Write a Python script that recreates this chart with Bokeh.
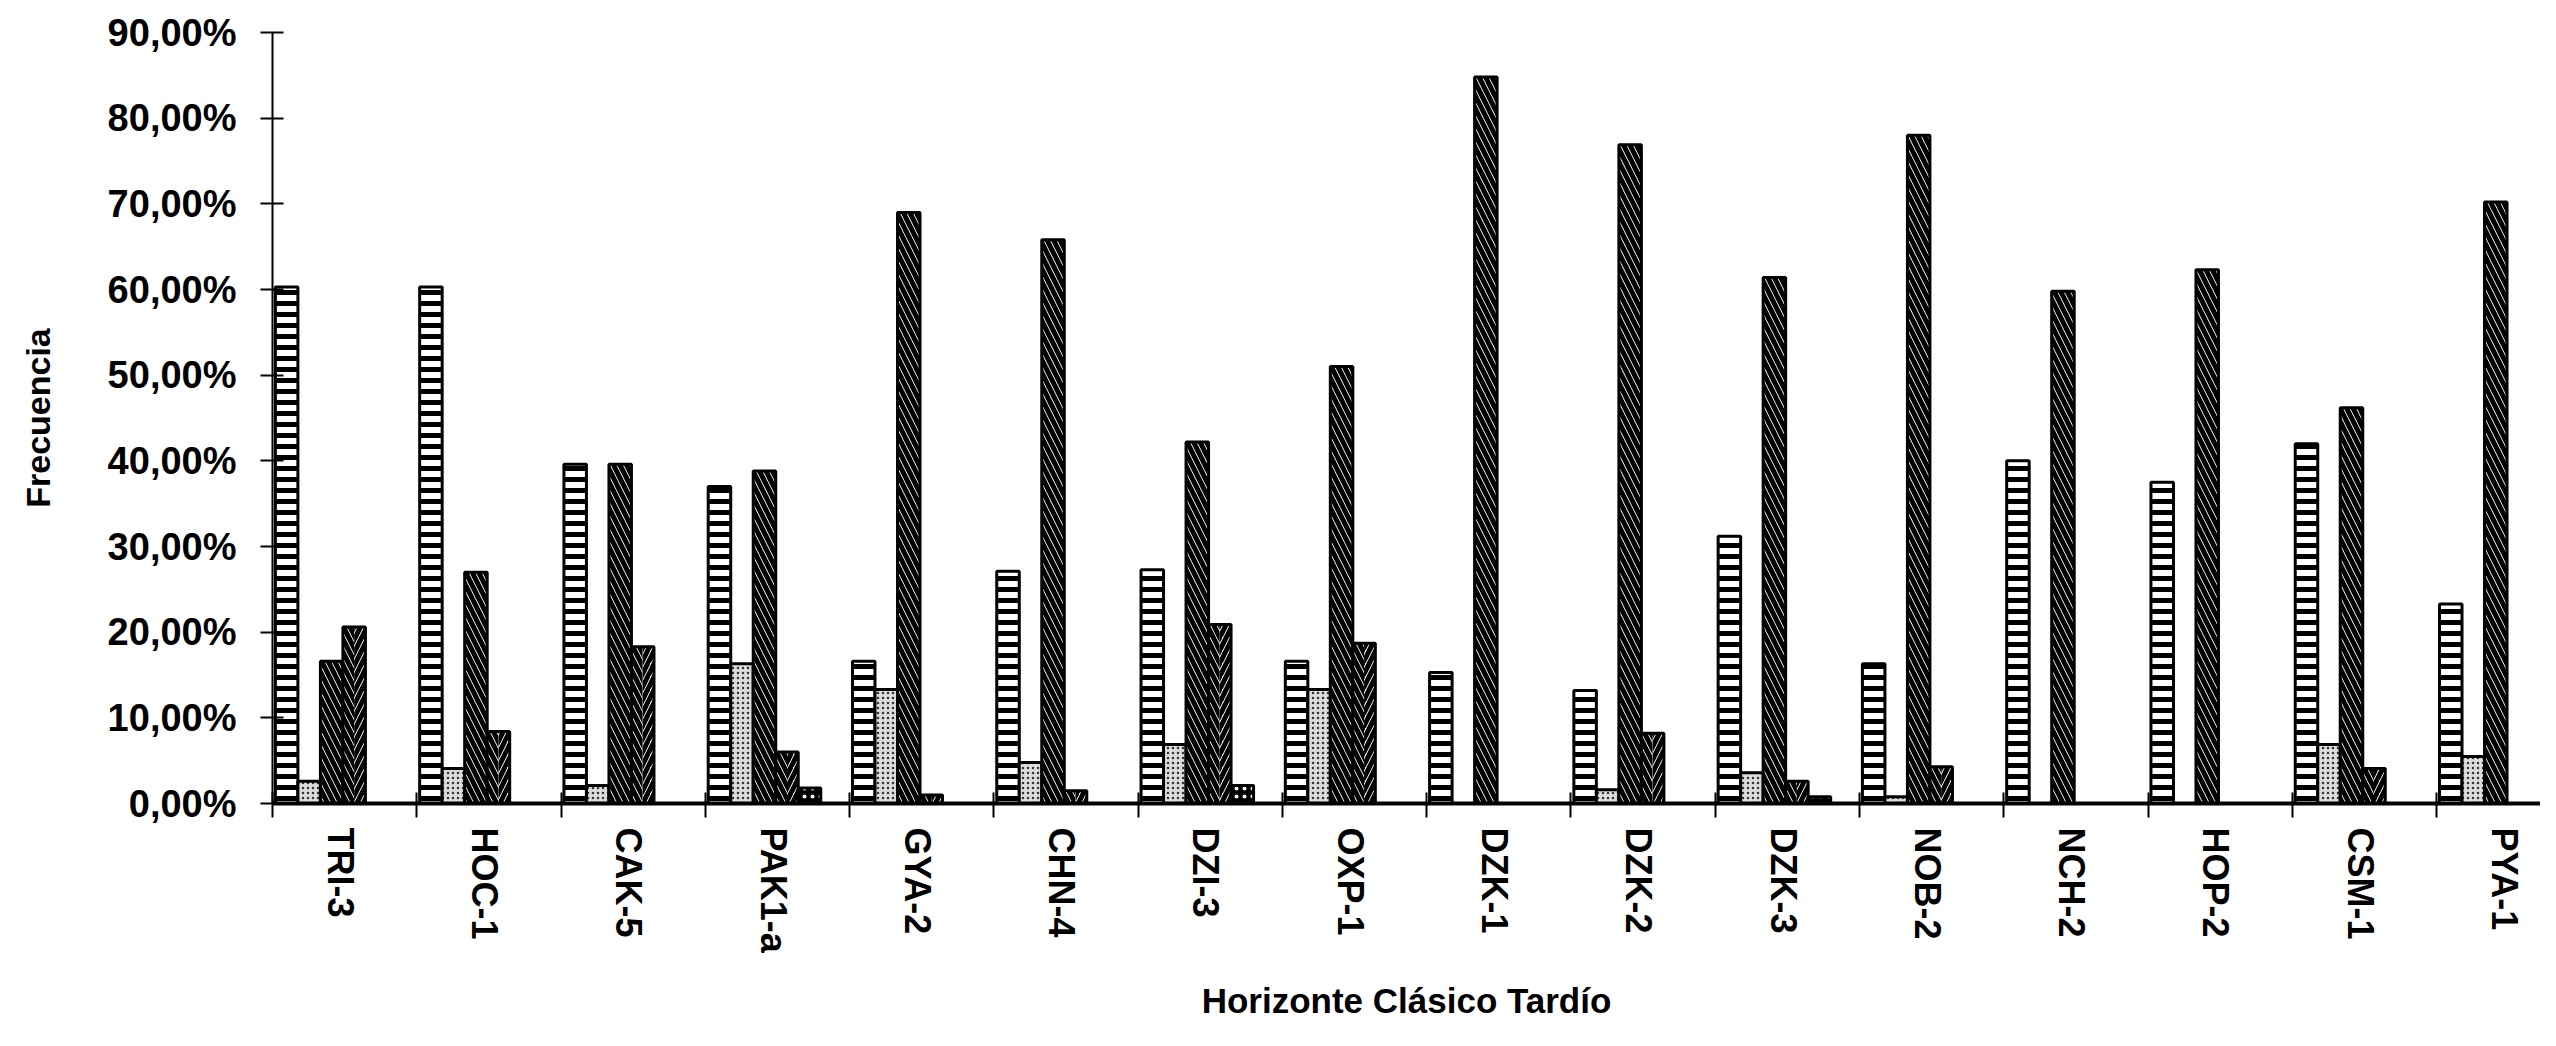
from bokeh.plotting import figure
from bokeh.models import FixedTicker, Range1d
from bokeh.embed import file_html
from bokeh.resources import INLINE

categories = ["TRI-3", "HOC-1", "CAK-5", "PAK1-a", "GYA-2", "CHN-4", "DZI-3", "OXP-1",
              "DZK-1", "DZK-2", "DZK-3", "NOB-2", "NCH-2", "HOP-2", "CSM-1", "PYA-1"]
serie_rayas = [60.3, 60.3, 39.6, 37.0, 16.6, 27.1, 27.3, 16.6, 15.3, 13.2, 31.2, 16.3, 40.0, 37.5, 42.0, 23.3]
serie_puntos = [2.6, 4.1, 2.1, 16.3, 13.3, 4.8, 6.9, 13.3, 0.0, 1.6, 3.6, 0.8, 0.0, 0.0, 6.9, 5.5]
serie_diagonal = [16.6, 27.0, 39.6, 38.8, 69.0, 65.8, 42.2, 51.0, 84.8, 76.9, 61.4, 78.0, 59.8, 62.3, 46.2, 70.2]
serie_espiga = [20.6, 8.4, 18.3, 6.0, 1.0, 1.5, 20.9, 18.7, 0.0, 8.2, 2.6, 4.3, 0.0, 0.0, 4.1, 0.0]
serie_otros = [0.0, 0.0, 0.0, 1.8, 0.0, 0.0, 2.1, 0.0, 0.0, 0.0, 0.8, 0.0, 0.0, 0.0, 0.0, 0.0]
y_ticks = [0, 10, 20, 30, 40, 50, 60, 70, 80, 90]
y_tick_labels = ["0,00%", "10,00%", "20,00%", "30,00%", "40,00%", "50,00%",
                 "60,00%", "70,00%", "80,00%", "90,00%"]

n = len(categories)
CAT_OFF = 0.47      # category boundary offset from label position
BAR_W = 0.156
START = 0.02
FONT = "Liberation Sans"
XMAX = 15.72

p = figure(width=2540, height=1030, output_backend="svg", toolbar_location=None,
           x_range=Range1d(-CAT_OFF, -CAT_OFF + XMAX), y_range=Range1d(0, 90),
           min_border_left=272, min_border_right=0, min_border_top=32, min_border_bottom=227)
p.outline_line_color = None
p.xgrid.visible = False
p.ygrid.visible = False
p.background_fill_color = "white"
p.border_fill_color = "white"

def xs(k, frac=0.5, w=BAR_W):
    return [i - CAT_OFF + START + BAR_W * k + w * frac for i in range(n)]

common = dict(line_color="black", line_width=3)
DIAG = dict(hatch_color="black", hatch_scale=13, hatch_weight=5)
# horizontal stripes
p.vbar(x=xs(0), top=serie_rayas, width=BAR_W, bottom=0, fill_color="white",
       hatch_pattern="horizontal_line", hatch_color="black", hatch_scale=11, hatch_weight=5, **common)
# dotted
p.vbar(x=xs(1), top=serie_puntos, width=BAR_W, bottom=0, fill_color="#dcdcdc",
       hatch_pattern="dot", hatch_color="#333333", hatch_scale=5, hatch_weight=1.5, **common)
# diagonal
p.vbar(x=xs(2), top=serie_diagonal, width=BAR_W, bottom=0, fill_color="white",
       hatch_pattern="left_diagonal_line", **DIAG, **common)
# herringbone: two halves
p.vbar(x=xs(3, 0.25), top=serie_espiga, width=BAR_W / 2, bottom=0, fill_color="white", line_color=None,
       hatch_pattern="left_diagonal_line", **DIAG)
p.vbar(x=xs(3, 0.75), top=serie_espiga, width=BAR_W / 2, bottom=0, fill_color="white", line_color=None,
       hatch_pattern="right_diagonal_line", **DIAG)
p.vbar(x=xs(3), top=serie_espiga, width=BAR_W, bottom=0, fill_color=None, **common)
# coarse dots
p.vbar(x=xs(4), top=serie_otros, width=BAR_W, bottom=0, fill_color="black",
       hatch_pattern="dot", hatch_color="white", hatch_scale=8, hatch_weight=4, **common)

# x axis
xa = p.xaxis[0]
xa.ticker = FixedTicker(ticks=list(range(n)), minor_ticks=[i - CAT_OFF for i in range(n + 1)])
xa.major_label_overrides = {i: c for i, c in enumerate(categories)}
xa.major_label_orientation = "vertical"
xa.major_tick_line_color = None
xa.major_tick_in = 0
xa.major_tick_out = 0
xa.minor_tick_in = 11
xa.minor_tick_out = 14
xa.minor_tick_line_width = 2
xa.minor_tick_line_color = "black"
xa.axis_line_width = 4
xa.major_label_standoff = 10
xa.major_label_text_font = FONT
xa.major_label_text_font_style = "bold"
xa.major_label_text_font_size = "36px"
xa.major_label_text_color = "black"
xa.axis_label = "Horizonte Clásico Tardío"
xa.axis_label_text_font = FONT
xa.axis_label_text_font_style = "bold"
xa.axis_label_text_font_size = "35px"
xa.axis_label_text_color = "black"
xa.axis_label_standoff = 25

# y axis
ya = p.yaxis[0]
ya.ticker = FixedTicker(ticks=y_ticks, minor_ticks=[])
ya.major_label_overrides = {t: l for t, l in zip(y_ticks, y_tick_labels)}
ya.major_tick_in = 11
ya.major_tick_out = 12
ya.major_tick_line_width = 2
ya.axis_line_width = 2
ya.major_label_standoff = 24
ya.major_label_text_font = FONT
ya.major_label_text_font_style = "bold"
ya.major_label_text_font_size = "38px"
ya.major_label_text_color = "black"
ya.axis_label = "Frecuencia"
ya.axis_label_text_font = FONT
ya.axis_label_text_font_style = "bold"
ya.axis_label_text_font_size = "34px"
ya.axis_label_text_color = "black"
ya.axis_label_standoff = 48

open("out.html", "w").write(file_html(p, INLINE))
